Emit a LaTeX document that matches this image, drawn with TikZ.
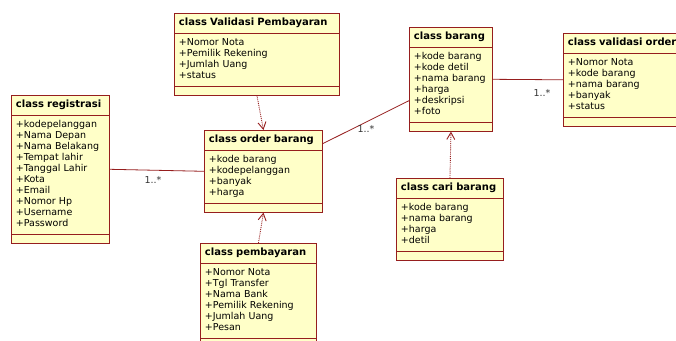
\documentclass[tikz,border=0pt]{standalone}
\usepackage{fontspec}
\setmainfont{DejaVu Sans}
\usepackage{xcolor}
\usetikzlibrary{
  arrows.meta,
  shapes.multipart
}
\definecolor{clsline}{RGB}{150,30,30}
\definecolor{clsfill}{RGB}{255,255,200}
\newcommand{\clsname}[1]{{\fontsize{10}{11}\selectfont\bfseries\strut#1}}
\newcommand{\attrlist}[1]{\strut#1\strut}

\begin{document}
\begin{tikzpicture}[x=1pt,y=-1pt,
    cls/.style={draw=clsline, fill=clsfill, line width=0.9pt,
      rectangle split, rectangle split parts=3,
      rectangle split empty part height=0pt, rectangle split empty part depth=0pt,
      align=left, anchor=north west, inner xsep=4.5pt, inner ysep=4pt,
      font=\fontsize{9.5}{11}\selectfont},
    asc/.style={draw=clsline, line width=0.8pt},
    dep/.style={draw=clsline, densely dotted, line width=0.9pt,
      -{Straight Barb[length=7pt,width=8pt]}},
    mul/.style={font=\fontsize{9.5}{11}\selectfont, text=black!80}
  ]
    \useasboundingbox (0,0) rectangle (676,340);
    % ---- left ----
    \node[cls, text width=89pt] (reg) at (11,95) {\clsname{class registrasi}
      \nodepart{second}\attrlist{+kodepelanggan\\+Nama Depan\\+Nama Belakang\\+Tempat lahir\\
        +Tanggal Lahir\\+Kota\\+Email\\+Nomor Hp\\+Username\\+Password}
      \nodepart{third}};
    % ---- middle column ----
    \node[cls, text width=156pt] (val) at (174,13) {\clsname{class Validasi Pembayaran}
      \nodepart{second}\attrlist{+Nomor Nota\\+Pemilik Rekening\\+Jumlah Uang\\+status}
      \nodepart{third}};
    \node[cls, text width=109pt] (ord) at (204,130) {\clsname{class order barang}
      \nodepart{second}\attrlist{+kode barang\\+kodepelanggan\\+banyak\\+harga}
      \nodepart{third}};
    \node[cls, text width=107pt] (pem) at (200,243) {\clsname{class pembayaran}
      \nodepart{second}\attrlist{+Nomor Nota\\+Tgl Transfer\\+Nama Bank\\+Pemilik Rekening\\
        +Jumlah Uang\\+Pesan}
      \nodepart{third}};
    % ---- right ----
    \node[cls, text width=74pt] (bar) at (409,27) {\clsname{class barang}
      \nodepart{second}\attrlist{+kode barang\\+kode detil\\+nama barang\\+harga\\+deskripsi\\+foto}
      \nodepart{third}};
    \node[cls, text width=98pt] (cari) at (396,178) {\clsname{class cari barang}
      \nodepart{second}\attrlist{+kode barang\\+nama barang\\+harga\\+detil}
      \nodepart{third}};
    \node[cls, text width=125pt] (vo) at (563,33) {\clsname{class validasi order}
      \nodepart{second}\attrlist{+Nomor Nota\\+kode barang\\+nama barang\\+banyak\\+status}
      \nodepart{third}};
    % ---- associations ----
    \draw[asc] (reg.east) -- (ord.west);
    \draw[asc] (ord.25) -- (bar.207);
    \draw[asc] (bar.east) -- (vo.west);
    \node[mul] (m1) at (153,180) {1..*};
    \node[mul] (m2) at (366,129) {1..*};
    \node[mul] (m3) at (542,93) {1..*};
    % ---- dependencies ----
    \draw[dep] (val.south) -- (ord.north);
    \draw[dep] (pem.north) -- (ord.south);
    \draw[dep] (cari.north) -- (bar.south);
  \end{tikzpicture}
\end{document}
